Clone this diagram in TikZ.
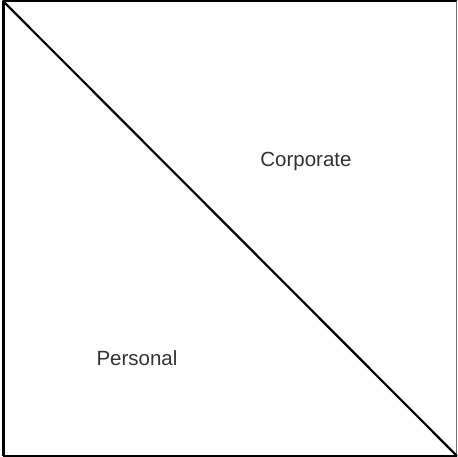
\documentclass[tikz,border=0pt]{standalone}
\usepackage{fontspec}
\setmainfont{Liberation Sans}
\begin{document}
\begin{tikzpicture}[x=1pt,y=-1pt,
  edge/.style={draw=black,line width=2.2pt},
  lbl/.style={font=\fontsize{20.5}{24}\selectfont,text=black!80,inner sep=0pt,anchor=base}]
\useasboundingbox[fill=white] (0,0) rectangle (458,457);
\coordinate (tl) at (3.2,1.2);
\coordinate (tr) at (456.6,1.2);
\coordinate (br) at (456.6,455.6);
\coordinate (bl) at (3.2,455.6);
\draw[edge] (tl) -- (tr);
\draw[edge] (bl) -- (br);
\draw[edge,line width=2.6pt] (tl) -- (bl);
\draw[draw=black!55,line width=1.6pt] (tr) -- (br);
\draw[line width=2.2pt,line cap=round] (tl) -- (br);
\node[lbl] (corp) at (306,166.5) {Corporate};
\node[lbl] (pers) at (137,365.5) {Personal};
\end{tikzpicture}
\end{document}
